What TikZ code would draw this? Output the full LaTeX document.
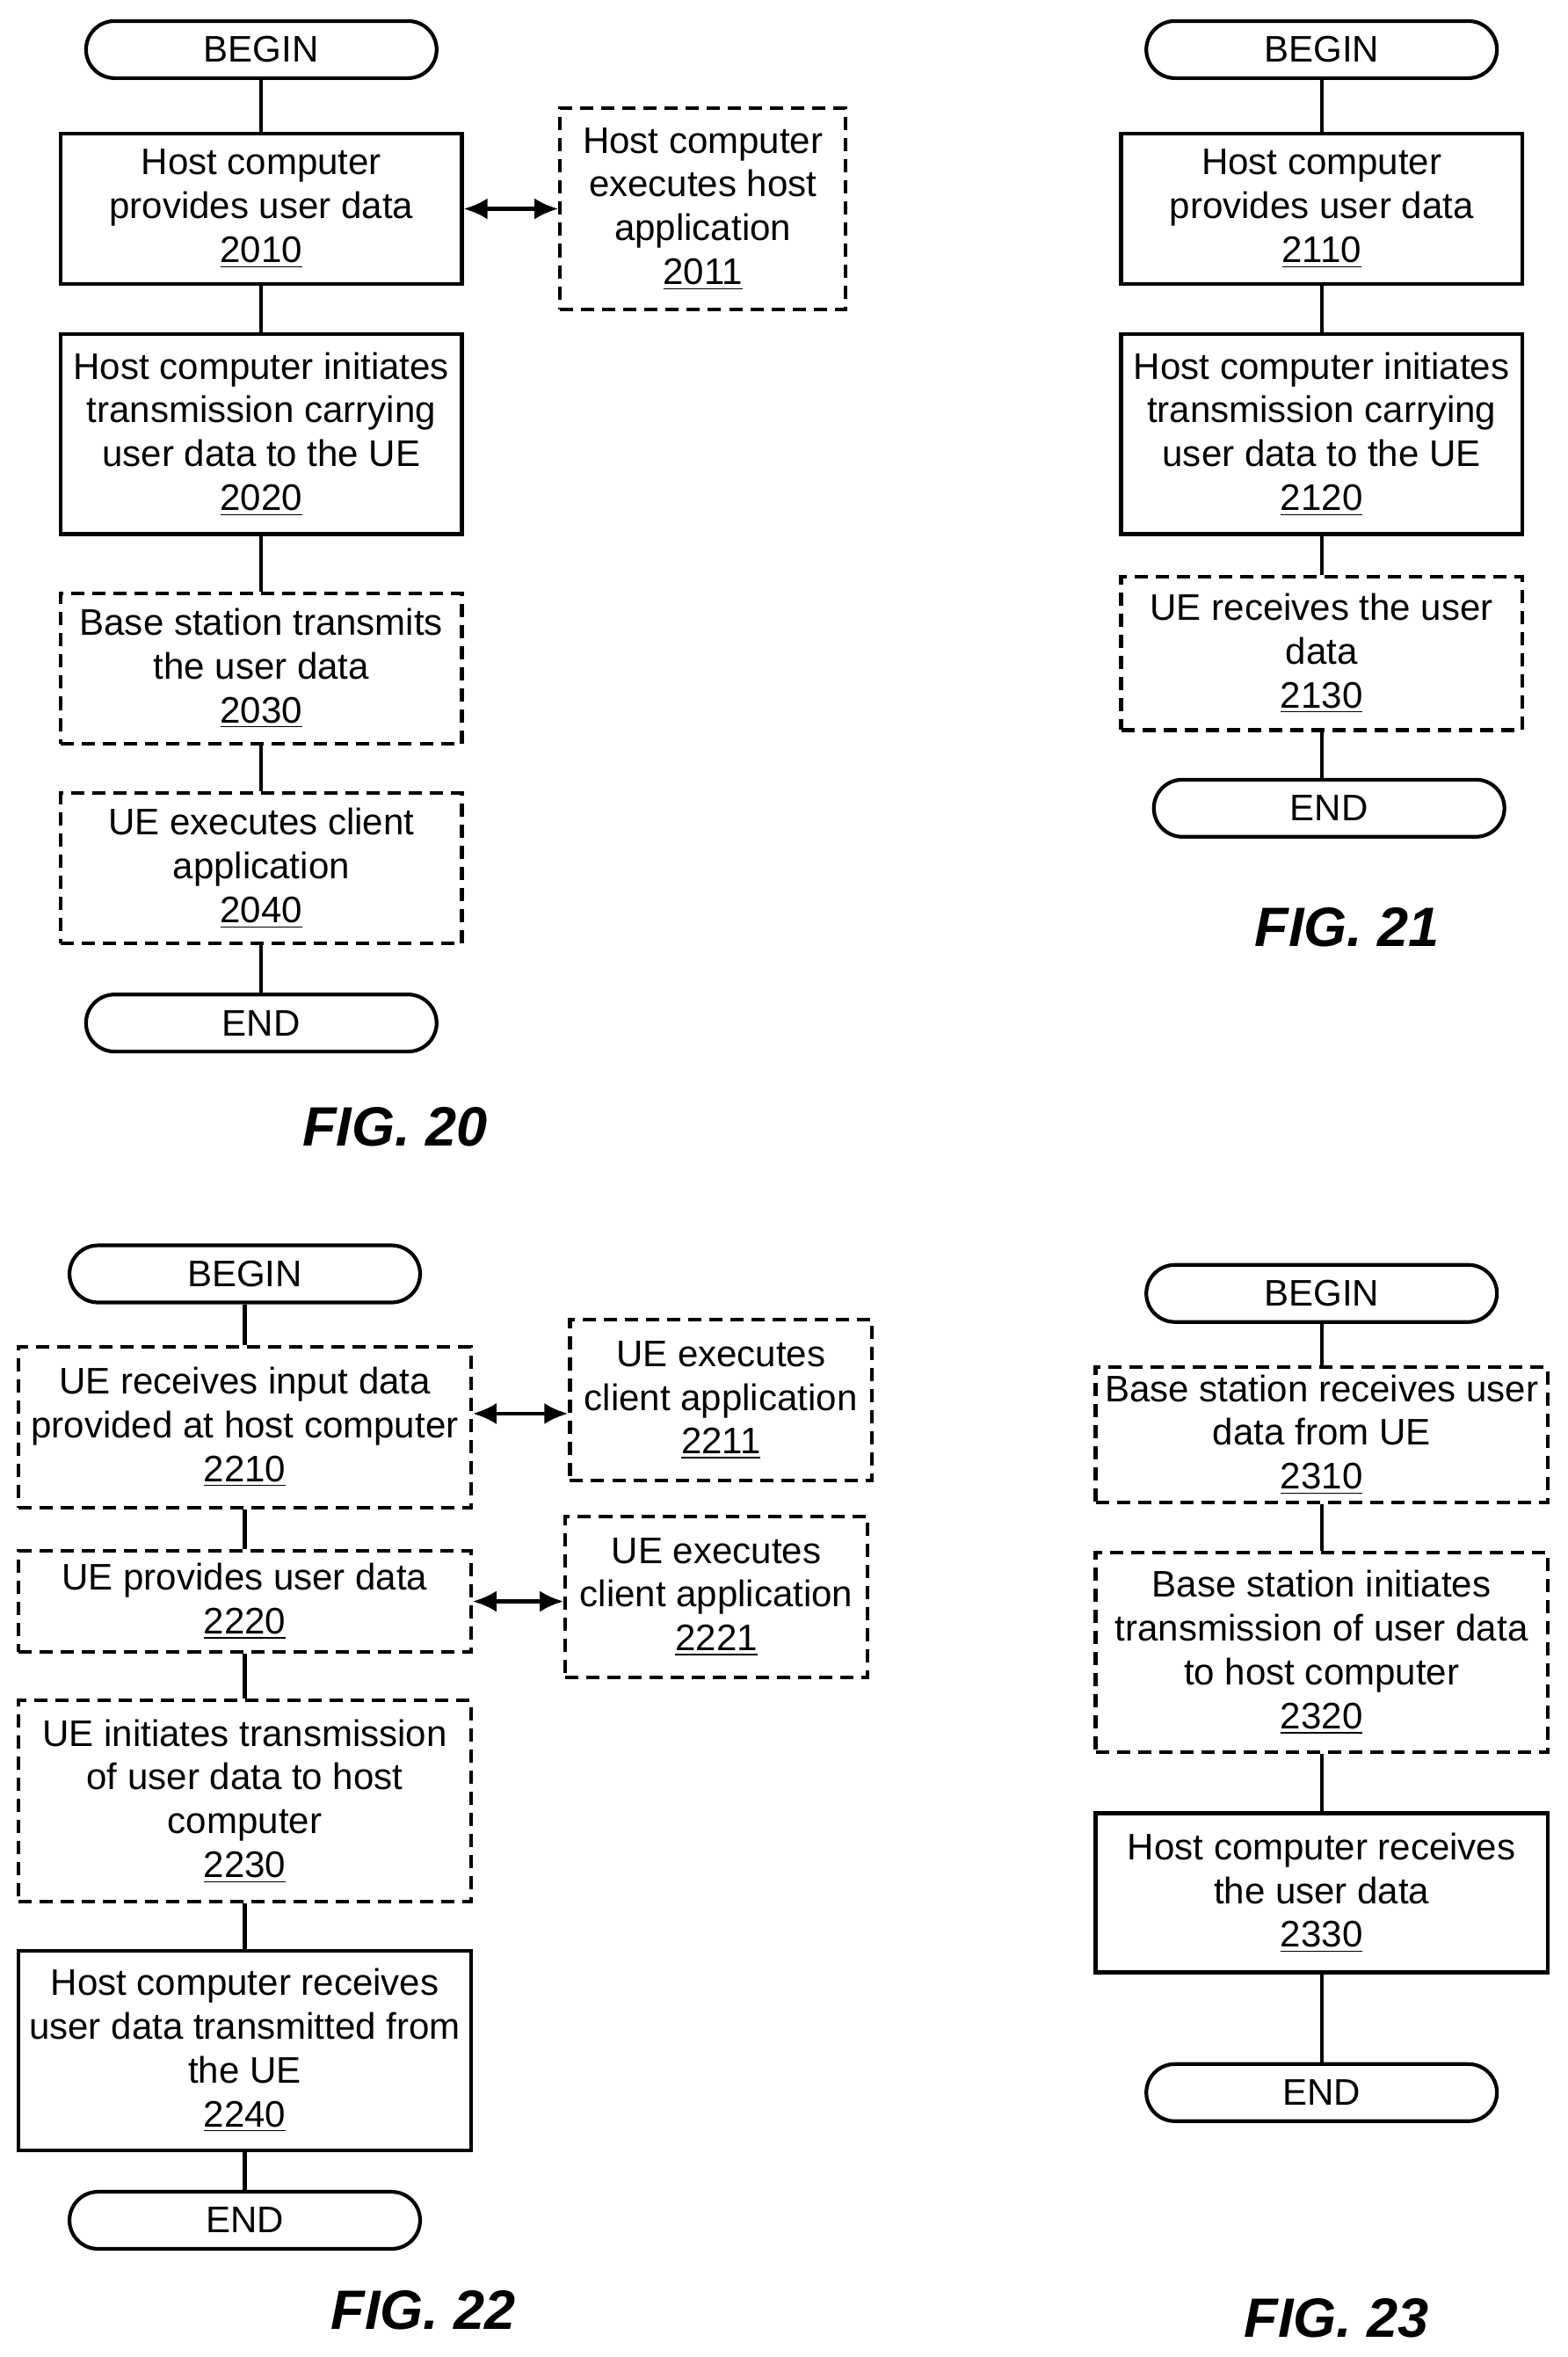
\documentclass[tikz,border=0pt]{standalone}
\usepackage{fontspec}
\setmainfont{Liberation Sans}
\usetikzlibrary{arrows.meta,positioning,calc}
\tikzset{
  proc/.style={draw, line width=1.4pt, align=center, inner sep=1pt,
    font=\fontsize{14}{16.6}\selectfont},
  dproc/.style={proc, dash pattern=on 5pt off 3pt},
  bx/.style 2 args={minimum width=#1*0.02cm, minimum height=#2*0.02cm},
  term/.style={draw, line width=1.4pt, rounded corners=0.38cm,
    minimum width=4.67cm, minimum height=0.76cm, inner sep=0pt,
    font=\fontsize{14}{16.6}\selectfont},
  link/.style={line width=1.4pt},
  both/.style={line width=1.4pt, {Latex[length=9pt,width=8pt]}-{Latex[length=9pt,width=8pt]}},
  figlabel/.style={font=\fontsize{21}{24}\selectfont\bfseries\itshape}
}
\begin{document}
\begin{tikzpicture}[x=0.02cm,y=-0.02cm]
\useasboundingbox (0,0) rectangle (1044,1569);

% FIG. 20
\node[term] (b20) at (174,33) {BEGIN};
\node[proc, bx={267}{100}] (s2010) at (174,139) {Host computer\\provides user data\\\underline{2010}};
\node[dproc, bx={190}{134}] (s2011) at (468,139) {Host computer\\executes host\\application\\\underline{2011}};
\node[proc, bx={267}{133}] (s2020) at (174,289) {Host computer initiates\\transmission carrying\\user data to the UE\\\underline{2020}};
\node[dproc, bx={267}{100}] (s2030) at (174,445) {Base station transmits\\the user data\\\underline{2030}};
\node[dproc, bx={267}{100}] (s2040) at (174,578) {UE executes client\\application\\\underline{2040}};
\node[term] (e20) at (174,681) {END};
\node[figlabel] (f20) at (263,750) {FIG. 20};
\draw[link] (b20) -- (s2010);
\draw[link] (s2010) -- (s2020);
\draw[link] (s2020) -- (s2030);
\draw[link] (s2030) -- (s2040);
\draw[link] (s2040) -- (e20);
\draw[both] (s2010) -- (s2011);

% FIG. 21
\node[term] (b21) at (880,33) {BEGIN};
\node[proc, bx={267}{100}] (s2110) at (880,139) {Host computer\\provides user data\\\underline{2110}};
\node[proc, bx={267}{133}] (s2120) at (880,289) {Host computer initiates\\transmission carrying\\user data to the UE\\\underline{2120}};
\node[dproc, bx={267}{102}] (s2130) at (880,435) {UE receives the user\\data\\\underline{2130}};
\node[term] (e21) at (885,538) {END};
\node[figlabel] (f21) at (897,617) {FIG. 21};
\draw[link] (b21) -- (s2110);
\draw[link] (s2110) -- (s2120);
\draw[link] (s2120) -- (s2130);
\draw[link] (s2130) -- (s2130 |- e21.north);

% FIG. 22
\node[term] (b22) at (163,848) {BEGIN};
\node[dproc, bx={301}{107}] (s2210) at (163,950) {UE receives input data\\provided at host computer\\\underline{2210}};
\node[dproc, bx={201}{107}] (s2211) at (480,932) {UE executes\\client application\\\underline{2211}};
\node[dproc, bx={301}{67}] (s2220) at (163,1066) {UE provides user data\\\underline{2220}};
\node[dproc, bx={201}{107}] (s2221) at (477,1063) {UE executes\\client application\\\underline{2221}};
\node[dproc, bx={301}{134}] (s2230) at (163,1199) {UE initiates transmission\\of user data to host\\computer\\\underline{2230}};
\node[proc, bx={301}{133}] (s2240) at (163,1365) {Host computer receives\\user data transmitted from\\the UE\\\underline{2240}};
\node[term] (e22) at (163,1478) {END};
\node[figlabel] (f22) at (282,1538) {FIG. 22};
\draw[link] (b22) -- (s2210);
\draw[link] (s2210) -- (s2220);
\draw[link] (s2220) -- (s2230);
\draw[link] (s2230) -- (s2240);
\draw[link] (s2240) -- (e22);
\draw[both] ($(s2210.east)+(0,-9)$) -- ($(s2211.west)+(0,9)$);
\draw[both] (s2220.east) -- (s2220.east -| s2221.west);

% FIG. 23
\node[term] (b23) at (880,861) {BEGIN};
\node[dproc, bx={301}{90}] (s2310) at (880,955) {Base station receives user\\data from UE\\\underline{2310}};
\node[dproc, bx={301}{133}] (s2320) at (880,1100) {Base station initiates\\transmission of user data\\to host computer\\\underline{2320}};
\node[proc, bx={301}{106}] (s2330) at (880,1260) {Host computer receives\\the user data\\\underline{2330}};
\node[term] (e23) at (880,1393) {END};
\node[figlabel] (f23) at (890,1543) {FIG. 23};
\draw[link] (b23) -- (s2310);
\draw[link] (s2310) -- (s2320);
\draw[link] (s2320) -- (s2330);
\draw[link] (s2330) -- (e23);
\end{tikzpicture}
\end{document}
